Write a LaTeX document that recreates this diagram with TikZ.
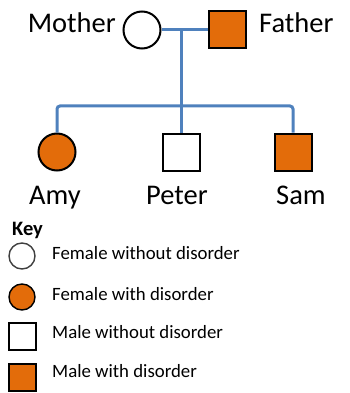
\documentclass[tikz,border=0pt]{standalone}
\usepackage{fontspec}
\setmainfont{Carlito}
\usepackage{tikz}
\usetikzlibrary{positioning,calc}
\definecolor{disorder}{RGB}{227,108,10}
\definecolor{lineblue}{RGB}{79,129,189}

\begin{document}
\begin{tikzpicture}[
    x=1pt, y=-1pt,
    female/.style={circle, draw=black, line width=2pt, fill=white, inner sep=0pt, minimum size=37pt},
    male/.style={rectangle, draw=black, line width=2pt, fill=white, inner sep=0pt, minimum size=37pt},
    affected/.style={fill=disorder},
    keyfemale/.style={female, line width=1.4pt, minimum size=26pt},
    keymale/.style={male, line width=1.4pt, minimum size=27pt},
    personname/.style={font=\fontsize{28.5}{30}\selectfont, inner sep=0pt},
    keytext/.style={font=\fontsize{18.8}{20}\selectfont, inner sep=0pt, anchor=base west},
    link/.style={draw=lineblue, line width=3pt}
  ]
    \useasboundingbox (0,0) rectangle (349,393);
    % Parents
    \node[female] (mother) at (142,30) {};
    \node[male, affected] (father) at (227,30) {};
    \node[personname, anchor=base east] (mothername) at (116,33) {Mother};
    \node[personname, anchor=base west] (fathername) at (259,33) {Father};
    % Children
    \node[female, affected] (amy) at (57,152) {};
    \node[male] (peter) at (181,152) {};
    \node[male, affected] (sam) at (293,152) {};
    \node[personname, anchor=base] (amyname) at (55,204) {Amy};
    \node[personname, anchor=base] (petername) at (177,204) {Peter};
    \node[personname, anchor=base] (samname) at (301,204) {Sam};
    % Lines of descent
    \coordinate (mate) at (181,31);
    \coordinate (sibs) at (181,106);
    \draw[link] (mother.east) -- (father.west);
    \draw[link] (mate) -- (peter.north);
    \draw[link, rounded corners=3pt] (amy.north) |- (sibs) -| (sam.north);
    % Key
    \node[keytext, font=\fontsize{20.5}{22}\selectfont\bfseries] (key) at (12,235) {Key};
    \node[keyfemale, draw=black!75] (k1) at (22,256) {};
    \node[keyfemale, affected] (k2) at (22,297) {};
    \node[keymale] (k3) at (22.5,336.5) {};
    \node[keymale, affected] (k4) at (22.5,377.5) {};
    \node[keytext] (t1) at (52,259) {Female without disorder};
    \node[keytext] (t2) at (52,300) {Female with disorder};
    \node[keytext] (t3) at (52,338) {Male without disorder};
    \node[keytext] (t4) at (52,377) {Male with disorder};
  \end{tikzpicture}
\end{document}
